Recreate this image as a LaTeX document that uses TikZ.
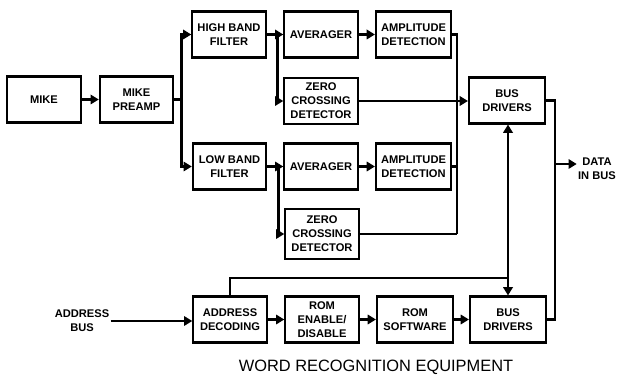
\documentclass[tikz,border=0pt]{standalone}
\usepackage{fontspec}
\setmainfont{Liberation Sans}
\usetikzlibrary{positioning,arrows.meta}

\tikzset{
  blk/.style={draw, line width=1.8pt, align=center, inner sep=1pt,
    minimum width=2.2cm, minimum height=1.38cm,
    font=\fontsize{9.5}{12}\selectfont\bfseries},
  lbl/.style={align=center, inner sep=1pt, font=\fontsize{9.5}{12}\selectfont\bfseries},
  conn/.style={line width=2.4pt},
  >={Triangle[length=7pt,width=8pt]}
}

\begin{document}
\begin{tikzpicture}[x=0.03cm, y=-0.03cm]
    \useasboundingbox (0,0) rectangle (618,375);

    % front end
    \node[blk] (mike) at (44,99.5) {MIKE};
    \node[blk] (preamp) at (136.5,99.5) {MIKE\\PREAMP};

    % high band chain
    \node[blk] (hbf) at (229,34.5) {HIGH BAND\\FILTER};
    \node[blk] (avg1) at (321,34.5) {AVERAGER};
    \node[blk, minimum width=2.25cm] (amp1) at (413.5,34.5) {AMPLITUDE\\DETECTION};
    \node[blk] (zc1) at (321,101) {ZERO\\CROSSING\\DETECTOR};

    % low band chain
    \node[blk] (lbf) at (229.5,166.5) {LOW BAND\\FILTER};
    \node[blk] (avg2) at (321,166.5) {AVERAGER};
    \node[blk, minimum width=2.25cm] (amp2) at (413.5,166.5) {AMPLITUDE\\DETECTION};
    \node[blk, minimum height=1.5cm] (zc2) at (322,234) {ZERO\\CROSSING\\DETECTOR};

    % bus side
    \node[blk, minimum width=2.28cm] (bus1) at (507,100.5) {BUS\\DRIVERS};
    \node[blk, minimum width=2.28cm] (bus2) at (508,319.5) {BUS\\DRIVERS};
    \node[lbl] (data) at (597,169) {DATA\\IN BUS};

    % address row
    \node[lbl] (abus) at (82,321) {ADDRESS\\BUS};
    \node[blk] (addr) at (230,319.5) {ADDRESS\\DECODING};
    \node[blk] (romen) at (322,319.5) {ROM\\ENABLE/\\DISABLE};
    \node[blk, minimum width=2.28cm] (romsw) at (415,319.5) {ROM\\SOFTWARE};

    \coordinate (collect) at (457,234);
    \coordinate (tap) at (508,278);
    \coordinate (dtap) at (555,164);

    \draw[conn,->] (mike) -- (preamp);
    \draw[conn] (preamp.east) -- ++(7,0) coordinate (split);
    \draw[conn,->] (split) |- (hbf.west);
    \draw[conn,->] (split) |- (lbf.west);

    \draw[conn,->] (hbf) -- (avg1);
    \draw[conn,->] (hbf.east) -- ++(11,0) |- (zc1.west);
    \draw[conn,->] (avg1) -- (amp1);
    \draw[conn,->] (lbf) -- (avg2);
    \draw[conn,->] (lbf.east) -- ++(11,0) |- (zc2.west);
    \draw[conn,->] (avg2) -- (amp2);

    \draw[conn] (amp1.east) -| (collect);
    \draw[conn] (amp2.east) -| (collect);
    \draw[conn] (zc2.east) -- (collect);
    \draw[conn,->] (zc1.east) -- (bus1.west |- zc1.east);

    \draw[conn] (bus1.east) -| (dtap);
    \draw[conn] (bus2.east) -| (dtap);
    \draw[conn,->] (dtap) -- (data.west |- dtap);

    \draw[conn,<->] (bus1.south -| tap) -- (bus2.north -| tap);
    \draw[conn] (addr.north) |- (tap);

    \draw[conn,->] (abus.east) -- (addr.west |- abus.east);
    \draw[conn,->] (addr) -- (romen);
    \draw[conn,->] (romen) -- (romsw);
    \draw[conn,->] (romsw) -- (bus2);

    \node[font=\fontsize{14}{16}\selectfont] (title) at (376,367) {WORD RECOGNITION EQUIPMENT};
\end{tikzpicture}
\end{document}
